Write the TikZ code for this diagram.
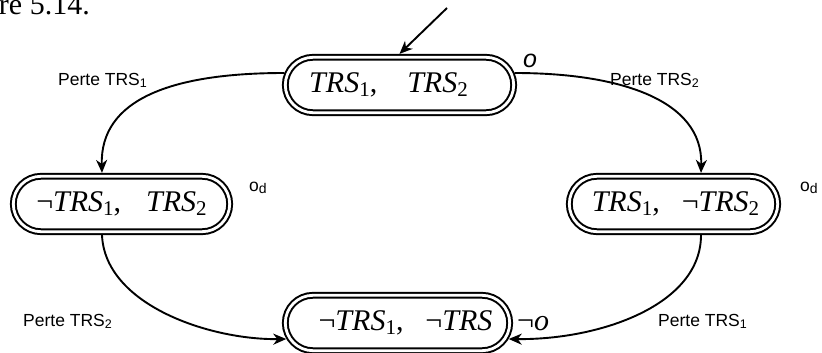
\documentclass[tikz,border=0pt]{standalone}
\usepackage{fontspec}
\setmainfont{Liberation Serif}
\newfontfamily\arialf{Liberation Sans}
\usetikzlibrary{arrows.meta,calc}
\newcommand\ssub[1]{\raisebox{-3.5pt}{\fontsize{21}{21}\selectfont #1}}
\newcommand\lsub[1]{\raisebox{-2pt}{\fontsize{12.5}{12.5}\selectfont #1}}
\newcommand\dsub[1]{\raisebox{-2.4pt}{\fontsize{14}{14}\selectfont #1}}
\newcommand\trs{\textit{TRS}}
\begin{document}
\begin{tikzpicture}[x=1pt,y=-1pt,
  state/.style={rectangle, rounded corners=27.7pt, draw, line width=2pt, double, double distance=2.8pt,
    minimum height=55.4pt, inner sep=0pt, outer sep=3.4pt, font=\fontsize{30}{30}\selectfont},
  trans/.style={line width=1.9pt, -{Stealth[length=13pt,width=11pt,inset=4pt]}},
  lbl/.style={font=\arialf\fontsize{17.5}{17.5}\selectfont, inner sep=0pt, anchor=base west},
  serlbl/.style={font=\fontsize{30}{30}\selectfont, inner sep=0pt, anchor=base west},
]
\useasboundingbox (0,0) rectangle (822,353);

\node[state, minimum width=228.4pt] (top) at (399.5,85) {\trs\ssub{1},\hspace{30pt}\trs\ssub{2}\hspace*{22pt}};
\node[state, minimum width=216.4pt] (left) at (121.5,204) {¬\trs\ssub{1},\hspace{25pt}\trs\ssub{2}};
\node[state, minimum width=208.4pt] (right) at (673.5,204) {\hspace*{4pt}\trs\ssub{1},\hspace{22pt}¬\trs\ssub{2}};
\node[state, minimum width=224.4pt] (bot) at (397.5,323) {\hspace*{16pt}¬\trs\ssub{1},\hspace{22pt}¬\trs};

\coordinate (init) at (447,8);
\draw[trans] (init) -- (top.north);

\draw[trans] ($(top.west)+(2.4,-12)$) .. controls (170,73) and (100,100) .. ($(left.north)+(-19.5,0)$);
\draw[trans] ($(top.east)+(-2.4,-12)$) .. controls (620,73) and (703,100) .. ($(right.north)+(27.5,0)$);
\draw[trans] ($(left.south)+(-19.5,0)$) .. controls (105,305) and (210,340) .. ($(bot.west)+(4.4,16)$);
\draw[trans] ($(right.south)+(27.5,0)$) .. controls (701,305) and (600,340) .. ($(bot.east)+(-4.4,16)$);

\node[lbl] (l1) at (58,85) {Perte TRS\lsub{1}};
\node[lbl] (l2) at (610,85) {Perte TRS\lsub{2}};
\node[lbl] (l3) at (23,326) {Perte TRS\lsub{2}};
\node[lbl] (l4) at (658,326) {Perte TRS\lsub{1}};
\node[lbl, font=\arialf\itshape\fontsize{25}{25}\selectfont] (o) at (523,68) {o};
\node[lbl] (od1) at (249,191) {o\dsub{d}};
\node[lbl] (od2) at (800,191) {o\dsub{d}};
\node[serlbl] (no) at (517,330) {¬\textit{o}};
\node[serlbl, anchor=base east] (cap) at (90,14.7) {re 5.14.};
\end{tikzpicture}
\end{document}
